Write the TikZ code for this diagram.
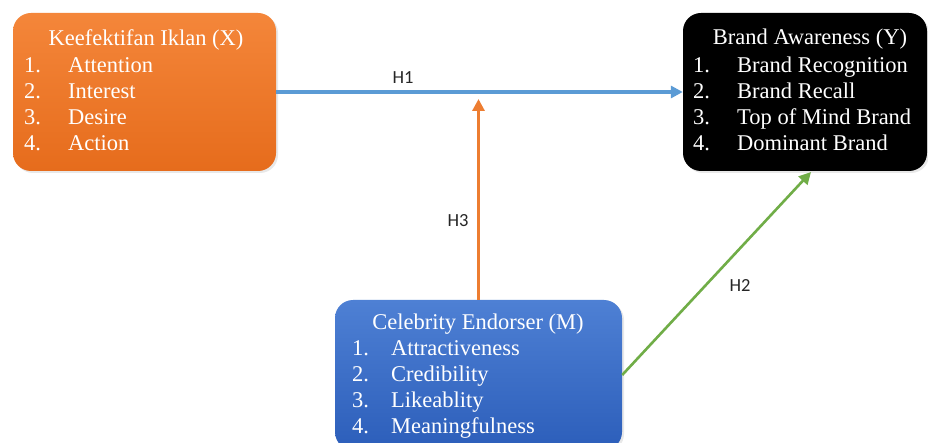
\documentclass[tikz,border=0pt]{standalone}
\usepackage{fontspec}
\setmainfont{Liberation Serif}
\newfontfamily\labfont{Carlito}
\usetikzlibrary{arrows.meta,shadows}
\definecolor{hblue}{HTML}{5B9BD5}
\definecolor{horange}{HTML}{ED7D31}
\definecolor{hgreen}{HTML}{70AD47}
\definecolor{otop}{RGB}{244,134,58}
\definecolor{obot}{RGB}{230,108,28}
\definecolor{btop}{RGB}{78,128,212}
\definecolor{bbot}{RGB}{44,94,186}
\tikzset{
  panel/.style={rounded corners=18pt, inner sep=0pt, draw=none,
    drop shadow={opacity=0.18, shadow xshift=2pt, shadow yshift=-2pt}},
  txt/.style={anchor=base west, inner sep=0pt, text=white, font=\fontsize{22.5}{26}\selectfont},
  ttl/.style={anchor=base, inner sep=0pt, text=white, font=\fontsize{22.5}{26}\selectfont},
  hlab/.style={anchor=base, inner sep=0pt, text=black!85, font=\labfont\fontsize{18.5}{20}\selectfont},
  conn/.style={line width=3.2pt, -{Triangle[length=12pt,width=12pt]}},
}
\begin{document}
\begin{tikzpicture}[x=1pt,y=-1pt]
\useasboundingbox (0,0) rectangle (928,443);
\clip (0,0) rectangle (928,443);
\fill[white] (0,0) rectangle (928,443);
% boxes
\node[panel, minimum width=263pt, minimum height=158pt, top color=otop, bottom color=obot] (ox) at (144.5,92) {};
\node[panel, minimum width=244pt, minimum height=158pt, fill=black] (bk) at (805,92) {};
\node[panel, minimum width=287pt, minimum height=150pt, top color=btop, bottom color=bbot] (bl) at (478.5,375) {};
% orange text
\node[ttl] (ot) at (146,46) {Keefektifan Iklan (X)};
\node[txt] (on1) at (24,73) {1.};  \node[txt] (oi1) at (68,73) {Attention};
\node[txt] (on2) at (24,99) {2.};  \node[txt] (oi2) at (68,99) {Interest};
\node[txt] (on3) at (24,125) {3.}; \node[txt] (oi3) at (68,125) {Desire};
\node[txt] (on4) at (24,151) {4.}; \node[txt] (oi4) at (68,151) {Action};
% black text
\node[ttl] (bt) at (810,45) {Brand Awareness (Y)};
\node[txt] (bn1) at (693,73) {1.};  \node[txt] (bi1) at (737,73) {Brand Recognition};
\node[txt] (bn2) at (693,99) {2.};  \node[txt] (bi2) at (737,99) {Brand Recall};
\node[txt] (bn3) at (693,125) {3.}; \node[txt] (bi3) at (737,125) {Top of Mind Brand};
\node[txt] (bn4) at (693,151) {4.}; \node[txt] (bi4) at (737,151) {Dominant Brand};
% blue text
\node[ttl] (lt) at (478,329) {Celebrity Endorser (M)};
\node[txt] (ln1) at (352,355) {1.};  \node[txt] (li1) at (391,355) {Attractiveness};
\node[txt] (ln2) at (352,381) {2.};  \node[txt] (li2) at (391,381) {Credibility};
\node[txt] (ln3) at (352,407) {3.};  \node[txt] (li3) at (391,407) {Likeablity};
\node[txt] (ln4) at (352,433) {4.};  \node[txt] (li4) at (391,433) {Meaningfulness};
% connectors
\coordinate (h3end) at (478.5,99);
\coordinate (h2end) at (811,172);
\draw[conn, hblue] (ox.east) -- (bk.west);
\draw[conn, horange] (bl.north) -- (h3end);
\draw[conn, hgreen, line width=2.6pt] (bl.east) -- (h2end);
% labels
\node[hlab] (l1) at (403,84) {H1};
\node[hlab] (l3) at (458,227) {H3};
\node[hlab] (l2) at (740,291) {H2};
\end{tikzpicture}
\end{document}
